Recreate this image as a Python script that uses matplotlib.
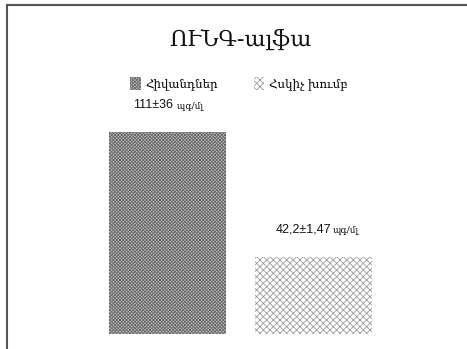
import matplotlib
matplotlib.use('Agg')
import matplotlib.pyplot as plt
from matplotlib.lines import Line2D

# TNF-alpha levels, patients vs control group
title = 'ՈՒՆԳ-ալֆա'
groups = ['Հիվանդներ', 'Հսկիչ խումբ']
means = [111, 42.2]
value_texts = ['111±36', '42,2±1,47']
unit_texts = [' պգ/մլ', 'պգ/մլ']

W, H = 467, 349
fig = plt.figure(figsize=(W / 100, H / 100), dpi=100)
fig.patch.set_facecolor('white')
plt.rcParams['hatch.linewidth'] = 0.6

arm_font = ['DejaVu Serif']
num_font = ['Liberation Sans', 'DejaVu Sans']

ax = fig.add_axes([0, 15 / H, 1, 1 - 20 / H])
ax.set_xlim(-1.147, 2.051)
ax.set_ylim(0, 180.8)
ax.axis('off')

x = [0, 1]
bars = ax.bar(x, means, width=0.8,
              color=['#c2c2c2', 'white'],
              edgecolor=['#666666', '#9c9c9c'],
              hatch=['xxxxxxxxxx', 'xxxxx'], linewidth=0)

# value labels above each bar: number in sans, unit smaller in serif
label_offsets = [(4, 17), (13, 18)]
for xi, m, vt, ut, (dx, dy) in zip(x, means, value_texts, unit_texts, label_offsets):
    ax.annotate(vt, (xi, m), xytext=(dx, dy), textcoords='offset points',
                ha='right', va='baseline', fontsize=9, family=num_font,
                color='#111111')
    ax.annotate(ut, (xi, m), xytext=(dx + 0.5, dy), textcoords='offset points',
                ha='left', va='baseline', fontsize=6.5, family=arm_font,
                color='#111111')

fig.text(240 / W, 1 - 40 / H, title, ha='center', va='center',
         fontsize=16, family=arm_font, color='#111111')

leg = fig.legend(bars, groups, loc='center', bbox_to_anchor=(239 / W, 1 - 84 / H),
                 ncol=2, frameon=False, handlelength=0.9, handleheight=1.3,
                 handletextpad=0.4, columnspacing=3.0,
                 prop={'family': arm_font, 'size': 8.5})

# frame lines along the top and left edge
fig.add_artist(Line2D([7 / W, 7 / W], [0, 1 - 5 / H], color='#555555', lw=1.5))
fig.add_artist(Line2D([7 / W, 1], [1 - 5 / H, 1 - 5 / H], color='#555555', lw=1.5))

fig.savefig('out.png', dpi=100, facecolor='white')
